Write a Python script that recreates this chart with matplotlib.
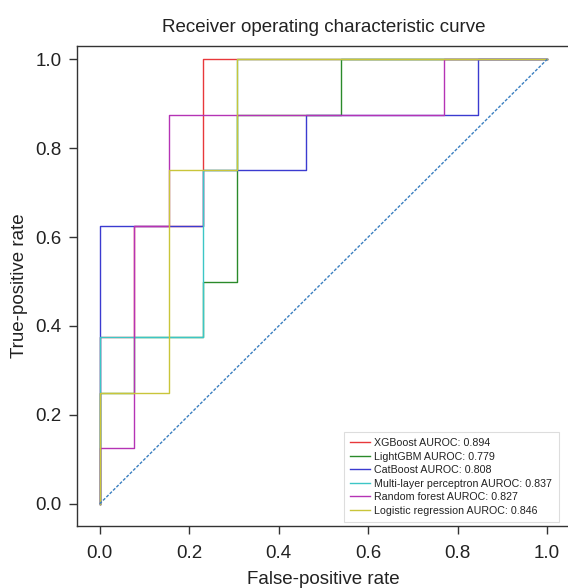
import matplotlib
matplotlib.use('Agg')
import matplotlib.pyplot as plt

# ── Data: ROC step corners (13 negatives, 8 positives) ──────
models = ['XGBoost', 'LightGBM', 'CatBoost', 'Multi-layer perceptron',
          'Random forest', 'Logistic regression']
aurocs = [0.894, 0.779, 0.808, 0.837, 0.827, 0.846]

n = 13.0
xgb_fpr = [0, 0, 1/n, 1/n, 3/n, 3/n, 1]
xgb_tpr = [0, 0.375, 0.375, 0.625, 0.625, 1.0, 1.0]

lgb_fpr = [0, 0, 1/n, 1/n, 3/n, 3/n, 4/n, 4/n, 7/n, 7/n, 1]
lgb_tpr = [0, 0.25, 0.25, 0.375, 0.375, 0.5, 0.5, 0.875, 0.875, 1.0, 1.0]

cat_fpr = [0, 0, 3/n, 3/n, 6/n, 6/n, 11/n, 11/n, 1]
cat_tpr = [0, 0.625, 0.625, 0.75, 0.75, 0.875, 0.875, 1.0, 1.0]

mlp_fpr = [0, 0, 3/n, 3/n, 4/n, 4/n, 1]
mlp_tpr = [0, 0.375, 0.375, 0.75, 0.75, 1.0, 1.0]

rf_fpr = [0, 0, 1/n, 1/n, 2/n, 2/n, 10/n, 10/n, 1]
rf_tpr = [0, 0.125, 0.125, 0.625, 0.625, 0.875, 0.875, 1.0, 1.0]

lr_fpr = [0, 0, 2/n, 2/n, 4/n, 4/n, 1]
lr_tpr = [0, 0.25, 0.25, 0.75, 0.75, 1.0, 1.0]

curves = [(xgb_fpr, xgb_tpr), (lgb_fpr, lgb_tpr), (cat_fpr, cat_tpr),
          (mlp_fpr, mlp_tpr), (rf_fpr, rf_tpr), (lr_fpr, lr_tpr)]
colors = ['#e8383b', '#2a8a2a', '#3b3bd0', '#3cc6c6', '#b533b5', '#c9c53a']

TXT = '#222222'
plt.rcParams.update({
    'font.family': ['Liberation Sans', 'DejaVu Sans'],
    'font.size': 13.5,
    'text.color': TXT,
    'axes.labelcolor': TXT,
    'xtick.color': '#333333',
    'ytick.color': '#333333',
    'xtick.labelcolor': TXT,
    'ytick.labelcolor': TXT,
})

fig = plt.figure(figsize=(5.68, 5.88), dpi=100)
W, H = 568.0, 588.0
ax = fig.add_axes([77.3 / W, 62 / H, (569.5 - 77.3) / W, (526 - 46) / H])

for (fx, ty), c, m, a in zip(curves, colors, models, aurocs):
    ax.plot(fx, ty, color=c, lw=1.0, label=f'{m} AUROC: {a:.3f}')
ax.plot([0, 1], [0, 1], ls='--', color='#3a7fc0', lw=1.0, dashes=(2.2, 1.2))

ax.set_xlim(-0.05, 1.05)
ax.set_ylim(-0.05, 1.03)
ax.set_xticks([0, 0.2, 0.4, 0.6, 0.8, 1.0])
ax.set_yticks([0, 0.2, 0.4, 0.6, 0.8, 1.0])
ax.tick_params(direction='out', length=5.5, width=1.0, labelsize=13.5)
ax.tick_params(axis='x', pad=8.5)
ax.tick_params(axis='y', pad=6)
for s in ax.spines.values():
    s.set_color('#333333')
    s.set_linewidth(1.0)

ax.set_xlabel('False-positive rate', labelpad=6)
ax.set_ylabel('True-positive rate', labelpad=5)
ax.set_title('Receiver operating characteristic curve', pad=10, fontsize=13.5)

leg = ax.legend(loc='lower right', bbox_to_anchor=(0.978, 0.008), borderaxespad=0,
                fontsize=7.7, handlelength=1.8, handletextpad=0.45,
                labelspacing=0.33, borderpad=0.6, fancybox=False,
                edgecolor='#dddddd', framealpha=1)
leg.get_frame().set_linewidth(0.8)

fig.savefig('out.png', dpi=100, facecolor='white')
